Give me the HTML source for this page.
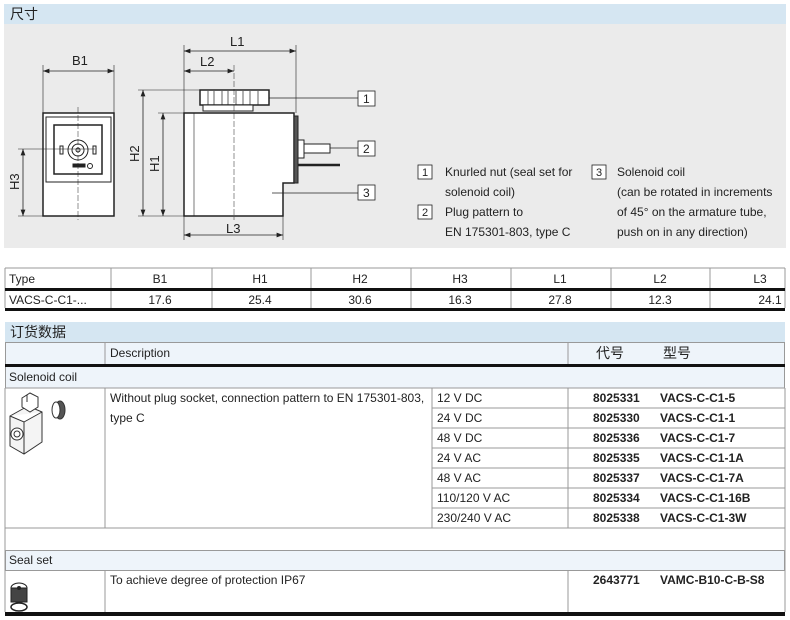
<!DOCTYPE html>
<html><head><meta charset="utf-8"><style>
*{margin:0;padding:0;box-sizing:border-box}
body{width:790px;height:620px;background:#fff;position:relative;overflow:hidden;font-family:"Liberation Sans Narrow","Liberation Sans","Noto Sans CJK SC",sans-serif;font-size:12px;color:#222}
.a{position:absolute;white-space:nowrap}
.cjk{font-family:"Noto Sans CJK SC","WenQuanYi Zen Hei",sans-serif}
.b{font-weight:bold}
</style></head><body>
<div class="a" style="left:4px;top:4px;width:782px;height:20px;background:#d5e6f2"></div>
<div class="a cjk" style="left:10px;top:4px;font-size:14px;line-height:20px">尺寸</div>
<div class="a" style="left:4px;top:24px;width:782px;height:224px;background:#ebebeb"></div>

<svg class="a" style="left:0;top:0" width="790" height="250" font-family="Liberation Sans" font-size="12" fill="none" stroke="#222">
<defs><marker id="m" markerWidth="8" markerHeight="6" refX="8" refY="3" orient="auto-start-reverse"><path d="M0,0L8,3L0,6z" fill="#222" stroke="none"/></marker></defs>
<rect x="43" y="113" width="71" height="103" fill="#fff" stroke-width="1.5"/>
<rect x="46" y="117" width="65" height="65" fill="#fff"/>
<rect x="54" y="125" width="48" height="49" fill="#fff" stroke-width="1.5"/>
<circle cx="78" cy="150" r="10" fill="#fff"/><circle cx="78" cy="150" r="6"/><circle cx="78" cy="150" r="2"/>
<rect x="60" y="146" width="3" height="8"/><rect x="93" y="146" width="3" height="8"/>
<rect x="73" y="164" width="12" height="3" fill="#222"/><circle cx="90" cy="166" r="2.5"/>
<line x1="78" y1="107" x2="78" y2="220" stroke-width=".5" stroke-dasharray="6 2"/>
<line x1="43" y1="65" x2="43" y2="113" stroke-width=".6"/><line x1="114" y1="65" x2="114" y2="113" stroke-width=".6"/>
<line x1="43" y1="71" x2="114" y2="71" stroke-width=".8" marker-start="url(#m)" marker-end="url(#m)"/>
<line x1="18" y1="149" x2="95" y2="149" stroke-width=".6"/><line x1="18" y1="216" x2="43" y2="216" stroke-width=".6"/>
<line x1="23" y1="149" x2="23" y2="216" stroke-width=".8" marker-start="url(#m)" marker-end="url(#m)"/>
<rect x="200" y="90" width="69" height="15" fill="#fff" stroke-width="1.5"/>
<path d="M208 91v14M214 91v14M222 91v14M228 91v14M236 91v14M243 91v14M250 91v14M258 91v14" stroke-width=".7"/>
<rect x="203" y="105" width="50" height="6" fill="#fff"/>
<path d="M184 113H294V183H283V216H184Z" fill="#fff" stroke-width="1.5"/>
<line x1="194" y1="113" x2="194" y2="216" stroke-width=".6"/>
<rect x="294" y="116" width="4" height="67" fill="#555"/>
<rect x="298" y="140" width="6" height="18" fill="#fff"/>
<rect x="304" y="144" width="26" height="9" fill="#fff"/>
<line x1="298" y1="165" x2="340" y2="165" stroke-width="2.5"/>
<line x1="234" y1="65" x2="234" y2="220" stroke-width=".5" stroke-dasharray="6 2"/>
<line x1="184" y1="45" x2="184" y2="240" stroke-width=".6"/><line x1="296" y1="45" x2="296" y2="113" stroke-width=".6"/>
<line x1="184" y1="51" x2="296" y2="51" stroke-width=".8" marker-start="url(#m)" marker-end="url(#m)"/>
<line x1="184" y1="71" x2="234" y2="71" stroke-width=".8" marker-start="url(#m)" marker-end="url(#m)"/>
<line x1="283" y1="185" x2="283" y2="240" stroke-width=".6"/>
<line x1="184" y1="235" x2="283" y2="235" stroke-width=".8" marker-start="url(#m)" marker-end="url(#m)"/>
<line x1="138" y1="90" x2="200" y2="90" stroke-width=".6"/><line x1="158" y1="113" x2="184" y2="113" stroke-width=".6"/><line x1="138" y1="216" x2="184" y2="216" stroke-width=".6"/>
<line x1="143" y1="90" x2="143" y2="216" stroke-width=".8" marker-start="url(#m)" marker-end="url(#m)"/>
<line x1="163" y1="113" x2="163" y2="216" stroke-width=".8" marker-start="url(#m)" marker-end="url(#m)"/>
<line x1="269" y1="98" x2="358" y2="98" stroke-width=".7"/>
<line x1="330" y1="148" x2="358" y2="148" stroke-width=".7"/>
<line x1="272" y1="193" x2="358" y2="193" stroke-width=".7"/>
<rect x="358" y="91" width="17" height="15" fill="#fff" stroke-width=".8"/>
<rect x="358" y="141" width="17" height="15" fill="#fff" stroke-width=".8"/>
<rect x="358" y="185" width="17" height="15" fill="#fff" stroke-width=".8"/>
<g fill="#222" stroke="none">
<text x="363" y="103">1</text><text x="363" y="153">2</text><text x="363" y="197">3</text>
<text x="72" y="65" font-size="13">B1</text><text x="230" y="46" font-size="13">L1</text><text x="200" y="66" font-size="13">L2</text><text x="226" y="233" font-size="13">L3</text>
<text transform="translate(19,190) rotate(-90)" font-size="13">H3</text>
<text transform="translate(139,162) rotate(-90)" font-size="13">H2</text>
<text transform="translate(159,172) rotate(-90)" font-size="13">H1</text>
</g>
<g stroke-width=".8" fill="#fff"><rect x="418" y="165" width="14" height="14"/><rect x="418" y="205" width="14" height="14"/><rect x="592" y="165" width="14" height="14"/></g>
<g fill="#222" stroke="none" font-size="11"><text x="422" y="176">1</text><text x="422" y="216">2</text><text x="596" y="176">3</text></g>
</svg>
<div class="a" style="left:445px;top:162px;line-height:20px">Knurled nut (seal set for<br>solenoid coil)<br>Plug pattern to<br>EN 175301-803, type C</div>
<div class="a" style="left:617px;top:162px;line-height:20px">Solenoid coil<br>(can be rotated in increments<br>of 45° on the armature tube,<br>push on in any direction)</div>

<svg class="a" style="left:0;top:260px" width="790" height="60" font-family="Liberation Sans" font-size="12">
<g stroke="#999" stroke-width="1"><path d="M5 8V48M111 8V48M212 8V48M311 8V48M411 8V48M511 8V48M611 8V48M710 8V48M785 8V48"/><path d="M5 8H785"/></g>
<rect x="5" y="28" width="780" height="3" fill="#111"/><rect x="5" y="48" width="780" height="3" fill="#111"/>
<g fill="#222" text-anchor="middle"><text x="9" y="23" text-anchor="start">Type</text>
<text x="160" y="23">B1</text><text x="260" y="23">H1</text><text x="360" y="23">H2</text><text x="460" y="23">H3</text><text x="560" y="23">L1</text><text x="660" y="23">L2</text><text x="760" y="23">L3</text>
<text x="9" y="44" text-anchor="start">VACS-C-C1-...</text>
<text x="160" y="44">17.6</text><text x="260" y="44">25.4</text><text x="360" y="44">30.6</text><text x="460" y="44">16.3</text><text x="560" y="44">27.8</text><text x="660" y="44">12.3</text><text x="770" y="44">24.1</text></g>
</svg>

<div class="a" style="left:5px;top:322px;width:780px;height:20px;background:#d5e6f2"></div>
<div class="a cjk" style="left:10px;top:322px;font-size:14px;line-height:20px">订货数据</div>
<div class="a" style="left:5px;top:342px;width:780px;height:22px;background:#eef4fa;border:1px solid #999;border-bottom:none"></div>
<div class="a" style="left:5px;top:364px;width:780px;height:3px;background:#111"></div>
<div class="a" style="left:5px;top:367px;width:780px;height:21px;background:#eef4fa;border-left:1px solid #999;border-right:1px solid #999"></div>
<div class="a" style="left:5px;top:550px;width:780px;height:21px;background:#eef4fa;border:1px solid #999"></div>
<svg class="a" style="left:0;top:340px" width="790" height="280">
<g stroke="#999" stroke-width="1" fill="none">
<path d="M105 2V24M568 2V24"/>
<path d="M5 48H785M5 48V272M785 48V272M105 48V188M432 48V188M568 48V188"/>
<path d="M432 68H785M432 88H785M432 108H785M432 128H785M432 148H785M432 168H785M5 188H785"/>
<path d="M105 230V272M568 230V272"/>
</g>
<rect x="5" y="272" width="780" height="4" fill="#111"/>
<g stroke="#333" fill="#fff" stroke-width="1">
<ellipse cx="60" cy="70" rx="5" ry="9" fill="#555"/><ellipse cx="56" cy="70" rx="4" ry="8"/>
<path d="M10 76L28 66L42 72L42 102L24 114L10 106Z" fill="#f4f4f4"/>
<path d="M10 76L24 82L42 72M24 82V114"/>
<path d="M22 58L30 53L38 57V67L30 72L22 67Z"/><path d="M27 55V62"/>
<circle cx="17" cy="94" r="6"/><circle cx="17" cy="94" r="3"/>
</g>
<g stroke="#222" fill="#fff">
<ellipse cx="19" cy="248" rx="8" ry="5"/>
<rect x="11" y="248" width="16" height="14" fill="#444"/>
<ellipse cx="19" cy="267" rx="8" ry="4" stroke-width="1.5"/>
<circle cx="19" cy="248" r="1.5" fill="#222"/>
</g>
</svg>
<div class="a" style="left:110px;top:342px;line-height:22px">Description</div>
<div class="a cjk" style="left:596px;top:342px;line-height:22px;font-size:14px">代号</div>
<div class="a cjk" style="left:663px;top:342px;line-height:22px;font-size:14px">型号</div>
<div class="a" style="left:9px;top:367px;line-height:21px">Solenoid coil</div>
<div class="a" style="left:110px;top:388px;line-height:20px">Without plug socket, connection pattern to EN 175301-803,<br>type C</div>
<div class="a" style="left:437px;top:388px;line-height:20px">12 V DC<br>24 V DC<br>48 V DC<br>24 V AC<br>48 V AC<br>110/120 V AC<br>230/240 V AC</div>
<div class="a b" style="left:593px;top:388px;line-height:20px">8025331<br>8025330<br>8025336<br>8025335<br>8025337<br>8025334<br>8025338</div>
<div class="a b" style="left:660px;top:388px;line-height:20px">VACS-C-C1-5<br>VACS-C-C1-1<br>VACS-C-C1-7<br>VACS-C-C1-1A<br>VACS-C-C1-7A<br>VACS-C-C1-16B<br>VACS-C-C1-3W</div>
<div class="a" style="left:9px;top:550px;line-height:21px">Seal set</div>
<div class="a" style="left:110px;top:570px;line-height:20px">To achieve degree of protection IP67</div>
<div class="a b" style="left:593px;top:570px;line-height:20px">2643771</div>
<div class="a b" style="left:660px;top:570px;line-height:20px">VAMC-B10-C-B-S8</div>
</body></html>
